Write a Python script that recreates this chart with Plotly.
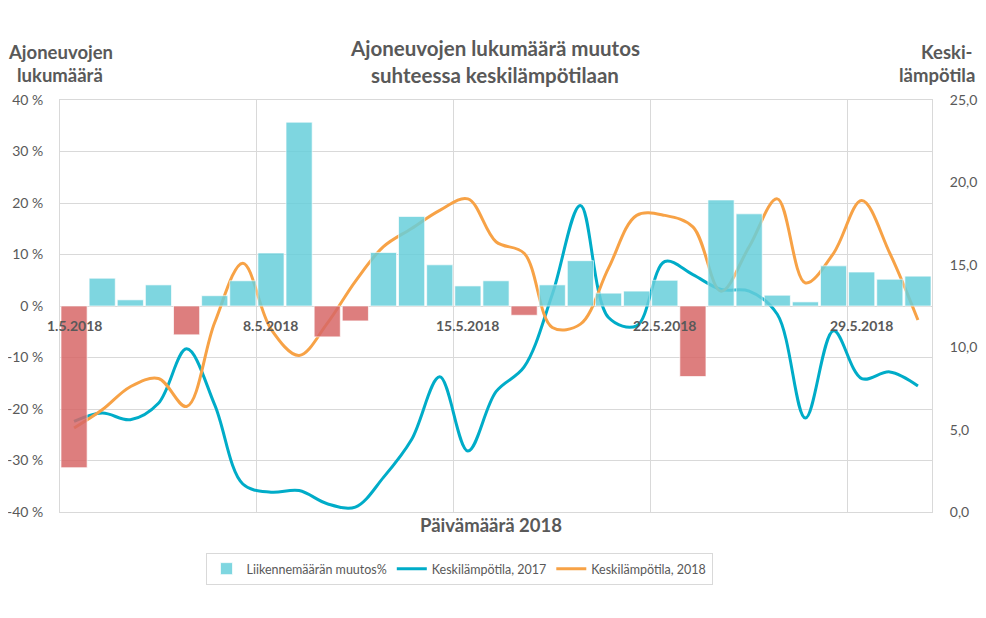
import plotly.graph_objects as go

# ---- data ----
days = list(range(1, 32))
traffic_change = [-31.4, 5.4, 1.2, 4.1, -5.6, 2.0, 4.9, 10.3, 35.7, -6.0, -2.9,
                  10.4, 17.4, 8.0, 3.9, 4.9, -1.8, 4.1, 8.8, 2.5, 2.9,
                  5.0, -13.7, 20.6, 17.9, 2.1, 0.8, 7.8, 6.6, 5.2, 5.8]
temp_2017 = [5.5, 6.0, 5.6, 6.6, 9.9, 6.5, 1.7, 1.2, 1.3, 0.5, 0.3,
             2.1, 4.4, 8.2, 3.7, 7.3, 8.8, 13.2, 18.6, 11.8, 11.3,
             15.2, 14.4, 13.5, 13.4, 12.0, 5.7, 11.0, 8.1, 8.5, 7.65]
temp_2018 = [5.1, 6.2, 7.6, 8.1, 6.4, 11.5, 15.1, 11.1, 9.5, 11.45, 14.0,
             16.1, 17.2, 18.3, 19.0, 16.4, 15.7, 11.2, 11.4, 14.8, 18.0,
             18.0, 17.3, 13.4, 16.1, 19.0, 13.9, 15.7, 18.9, 15.7, 11.65]
label_days = [1, 8, 15, 22, 29]
date_labels = ["1.5.2018", "8.5.2018", "15.5.2018", "22.5.2018", "29.5.2018"]
pct_ticks = [40, 30, 20, 10, 0, -10, -20, -30, -40]
pct_labels = ["40 %", "30 %", "20 %", "10 %", "0 %", "-10 %", "-20 %", "-30 %", "-40 %"]
temp_ticks = [25, 20, 15, 10, 5, 0]
temp_labels = ["25,0", "20,0", "15,0", "10,0", "5,0", "0,0"]

FONT = "Lato, Roboto, sans-serif"
TXT = "#595959"
GRID = "#D9D9D9"

pos = [v if v >= 0 else None for v in traffic_change]
neg = [v if v < 0 else None for v in traffic_change]

fig = go.Figure()
fig.add_trace(go.Scatter(x=days, y=temp_2017, name="Keskilämpötila, 2017", mode="lines",
                         line=dict(color="#00ACC8", width=3, shape="spline"),
                         yaxis="y", legendrank=2))
fig.add_trace(go.Scatter(x=days, y=temp_2018, name="Keskilämpötila, 2018", mode="lines",
                         line=dict(color="#F7A246", width=3, shape="spline"),
                         yaxis="y", legendrank=3))
fig.add_trace(go.Bar(x=days, y=pos, name="Liikennemäärän muutos%",
                     marker=dict(color="rgb(104,207,219)", line=dict(color="rgba(255,255,255,0.7)", width=1)),
                     opacity=0.85, yaxis="y2", legendrank=1))
fig.add_trace(go.Bar(x=days, y=neg, name="neg", showlegend=False,
                     marker=dict(color="rgb(216,104,104)", line=dict(color="rgba(255,255,255,0.7)", width=1)),
                     opacity=0.85, yaxis="y2"))

# the page body adds an 8px offset; target screen coordinates below
OFF = 8
W, H = 986 - OFF, 618 - OFF
H_TOP, H_BOT, X_L, X_R = 100, 512, 60, 932   # plot area on screen
def py(ypx):
    return (H_BOT - ypx) / (H_BOT - H_TOP)
def px(xpx):
    return (xpx - X_L) / (X_R - X_L)

annotations = []
for d, lab in zip(label_days, date_labels):
    annotations.append(dict(x=d, y=0, xref="x", yref="y2", text="<b>%s</b>" % lab,
                            showarrow=False, yanchor="top", yshift=-9,
                            font=dict(family=FONT, size=14, color=TXT)))

def ann(x, y, text, size, xanchor="center"):
    return dict(x=px(x), y=py(y), xref="paper", yref="paper", text="<b>%s</b>" % text,
                showarrow=False, xanchor=xanchor, yanchor="middle",
                font=dict(family=FONT, size=size, color=TXT))

annotations += [
    ann(495, 48, "Ajoneuvojen lukumäärä muutos", 20.5),
    ann(495, 75, "suhteessa keskilämpötilaan", 20.5),
    ann(60, 52, "Ajoneuvojen", 18.5),
    ann(60, 75, "lukumäärä", 18.5),
    ann(975, 52, "Keski-", 18.5, "right"),
    ann(977, 75, "lämpötila", 18.5, "right"),
    ann(491, 525, "Päivämäärä 2018", 18.5),
]

fig.update_layout(
    width=W, height=H,
    margin=dict(l=X_L - OFF, r=986 - X_R, t=H_TOP - OFF, b=618 - H_BOT, autoexpand=False),
    paper_bgcolor="white", plot_bgcolor="white",
    font=dict(family=FONT, size=13, color=TXT),
    barmode="relative", bargap=0.07,
    xaxis=dict(range=[0.5, 31.5], tickvals=[d - 0.5 for d in label_days[1:]],
               showticklabels=False, ticks="", showgrid=True, gridcolor=GRID, gridwidth=1,
               zeroline=False, showline=True, mirror=True, linecolor=GRID, linewidth=1),
    yaxis=dict(side="right", range=[0, 25], tickvals=temp_ticks, ticktext=temp_labels,
               showgrid=False, zeroline=False, showline=True, linecolor=GRID, ticks="",
               ticklabelstandoff=14, tickfont=dict(family=FONT, size=14, color=TXT)),
    yaxis2=dict(side="left", overlaying="y", range=[-40, 40], tickvals=pct_ticks, ticktext=pct_labels,
                showgrid=True, gridcolor=GRID, gridwidth=1, zeroline=False, showline=True,
                linecolor=GRID, ticks="", ticklabelstandoff=13,
                tickfont=dict(family=FONT, size=14, color=TXT)),
    legend=dict(orientation="h", x=px(459), xanchor="center", y=py(569), yanchor="middle",
                bordercolor=GRID, borderwidth=1, font=dict(family=FONT, size=12.5, color=TXT),
                traceorder="normal"),
    annotations=annotations,
    showlegend=True,
)

fig.write_html("out.html")
